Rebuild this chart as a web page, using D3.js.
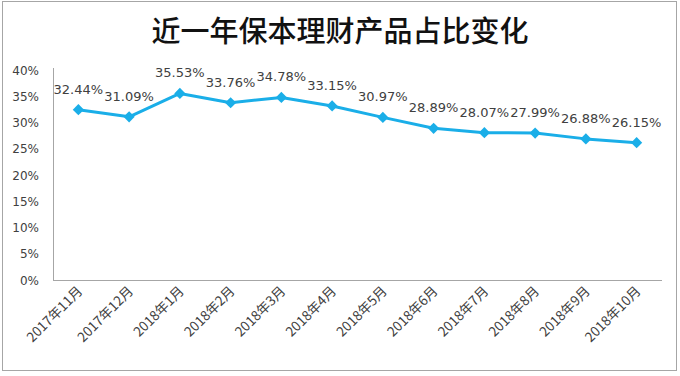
<!DOCTYPE html>
<html><head><meta charset="utf-8">
<script src="https://cdn.jsdelivr.net/npm/d3@7"></script>
<style>body{margin:0;background:#fff}svg{display:block}</style>
</head><body><svg id="c" width="680" height="376"></svg>
<script>
const categories = ["2017年11月","2017年12月","2018年1月","2018年2月","2018年3月","2018年4月","2018年5月","2018年6月","2018年7月","2018年8月","2018年9月","2018年10月"];
const values = [32.44,31.09,35.53,33.76,34.78,33.15,30.97,28.89,28.07,27.99,26.88,26.15];
const yTicks = [0,5,10,15,20,25,30,35,40];
const title = "近一年保本理财产品占比变化";

const svg = d3.select("#c");
const m = {l:53, r:662, t:70, b:280};
svg.append("rect").attr("x",2.5).attr("y",1.5).attr("width",674).attr("height",369)
  .attr("fill","#fff").attr("stroke","#a6a6a6").attr("stroke-width",1);

svg.append("text").attr("x",340).attr("y",42).attr("text-anchor","middle")
  .attr("font-family","'Noto Sans CJK SC'").attr("font-weight",500).attr("font-size",29)
  .attr("fill","#111").text(title);

const x = d3.scalePoint().domain(categories).range([m.l,m.r]).padding(0.5);
const y = d3.scaleLinear().domain([0,40]).range([m.b,m.t]);

svg.append("line").attr("x1",m.l+0.5).attr("x2",m.l+0.5).attr("y1",m.t-2).attr("y2",m.b).attr("stroke","#a6a6a6");
svg.append("line").attr("x1",m.l).attr("x2",m.r).attr("y1",m.b+0.5).attr("y2",m.b+0.5).attr("stroke","#a6a6a6");

const font = "'DejaVu Sans', Verdana, sans-serif";
svg.append("g").selectAll("text").data(yTicks).join("text")
  .attr("x",39).attr("y",d=>y(d)+4.5).attr("text-anchor","end")
  .attr("font-family",font).attr("font-size",12).attr("fill","#404040")
  .text(d=>d+"%");

svg.append("g").selectAll("text").data(categories).join("text")
  .attr("transform",d=>`translate(${x(d)+5},${292}) rotate(-45)`)
  .attr("text-anchor","end")
  .attr("font-family","'Noto Sans CJK SC', 'DejaVu Sans', sans-serif").attr("font-size",13.5).attr("fill","#404040")
  .text(d=>d);

const color = "#1aaee8";
const line = d3.line().x((d,i)=>x(categories[i])).y(d=>y(d));
svg.append("path").datum(values).attr("d",line).attr("fill","none")
  .attr("stroke",color).attr("stroke-width",3).attr("stroke-linejoin","round");

svg.append("g").selectAll("path").data(values).join("path")
  .attr("d",d3.symbol().type(d3.symbolDiamond2).size(80))
  .attr("transform",(d,i)=>`translate(${x(categories[i])},${y(d)})`)
  .attr("fill",color);

svg.append("g").selectAll("text").data(values).join("text")
  .attr("x",(d,i)=>x(categories[i])).attr("y",d=>y(d)-16)
  .attr("text-anchor","middle")
  .attr("font-family",font).attr("font-size",13).attr("fill","#404040")
  .text(d=>d.toFixed(2)+"%");
</script></body></html>
